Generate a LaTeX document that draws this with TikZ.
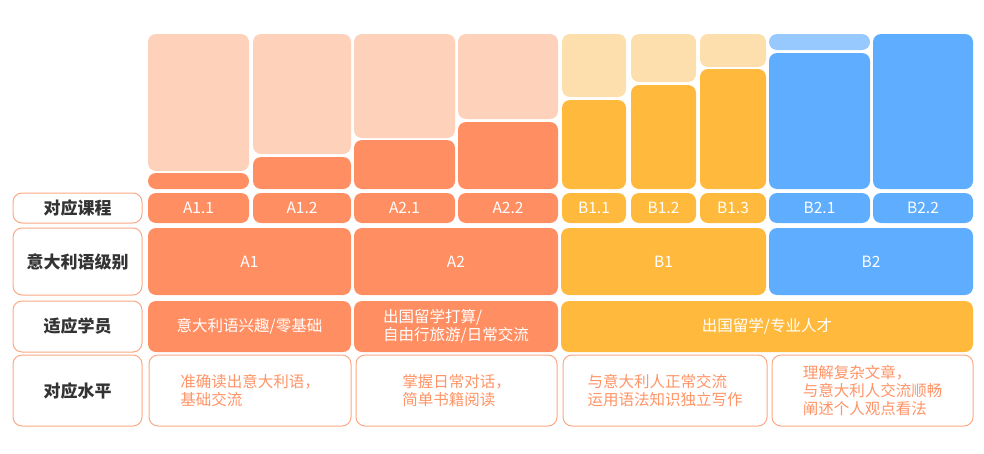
\documentclass[tikz,border=0pt]{standalone}
\usepackage{fontspec}
\setmainfont{Noto Sans CJK SC}
\usetikzlibrary{fit}
\definecolor{orgD}{HTML}{FF8F63}
\definecolor{orgL}{HTML}{FDD1BA}
\definecolor{yelD}{HTML}{FFBA3E}
\definecolor{yelL}{HTML}{FDDFAD}
\definecolor{bluD}{HTML}{5FADFE}
\definecolor{bluL}{HTML}{97C8FE}
\definecolor{edgeO}{HTML}{FBA985}
\definecolor{txtO}{HTML}{FF9466}
\definecolor{txtD}{HTML}{333333}
\tikzset{
  bx/.style={rectangle, rounded corners=8pt, inner sep=0pt, draw=none},
  bar/.style={bx, fill=#1},
  cellw/.style={bx, fill=#1, text=white, font=\fontsize{15.5}{18}\selectfont},
  lab/.style={bx, rounded corners=9pt, draw=edgeO, line width=1pt, fill=white, text=txtD, font=\fontsize{17}{20}\selectfont\bfseries},
  lvl/.style={bx, rounded corners=9pt, draw=edgeO, line width=1pt, fill=white, text=txtO, align=left, font=\fontsize{15.5}{18}\selectfont}
}
\begin{document}
\begin{tikzpicture}[x=1pt,y=-1pt]
\useasboundingbox (0,0) rectangle (984,453);
% top bars
\node[bar=orgL, fit={(148,34) (249,171)}] (a11l) {};
\node[bar=orgD, fit={(148,173) (249,189)}] (a11d) {};
\node[bar=orgL, fit={(253,34) (351,154)}] (a12l) {};
\node[bar=orgD, fit={(253,157) (351,189)}] (a12d) {};
\node[bar=orgL, fit={(354,34) (455,138)}] (a21l) {};
\node[bar=orgD, fit={(354,140) (455,189)}] (a21d) {};
\node[bar=orgL, fit={(458,34) (558,119)}] (a22l) {};
\node[bar=orgD, fit={(458,122) (558,189)}] (a22d) {};
\node[bar=yelL, fit={(562,34) (626,97)}] (b11l) {};
\node[bar=yelD, fit={(562,100) (626,189)}] (b11d) {};
\node[bar=yelL, fit={(631,34) (696,82)}] (b12l) {};
\node[bar=yelD, fit={(631,85) (696,189)}] (b12d) {};
\node[bar=yelL, fit={(700,34) (766,67)}] (b13l) {};
\node[bar=yelD, fit={(700,69) (766,189)}] (b13d) {};
\node[bar=bluL, fit={(769,34) (870,50)}] (b21l) {};
\node[bar=bluD, fit={(769,53) (870,189)}] (b21d) {};
\node[bar=bluD, fit={(873,34) (973,189)}] (b22d) {};
% row 1
\node[lab, fit={(13,193) (142,223)}] (lab1) {};
\node at (lab1.center) [text=txtD, font=\fontsize{17}{20}\selectfont\bfseries] (lab1t) {对应课程};
\node[cellw=orgD, fit={(148,193) (249,223)}] (c11) {};
\node at (c11.center) [text=white, font=\fontsize{15.5}{18}\selectfont] (c11t) {A1.1};
\node[cellw=orgD, fit={(253,193) (351,223)}] (c12) {};
\node at (c12.center) [text=white, font=\fontsize{15.5}{18}\selectfont] (c12t) {A1.2};
\node[cellw=orgD, fit={(354,193) (455,223)}] (c21) {};
\node at (c21.center) [text=white, font=\fontsize{15.5}{18}\selectfont] (c21t) {A2.1};
\node[cellw=orgD, fit={(458,193) (558,223)}] (c22) {};
\node at (c22.center) [text=white, font=\fontsize{15.5}{18}\selectfont] (c22t) {A2.2};
\node[cellw=yelD, fit={(562,193) (626,223)}] (d11) {};
\node at (d11.center) [text=white, font=\fontsize{15.5}{18}\selectfont] (d11t) {B1.1};
\node[cellw=yelD, fit={(631,193) (696,223)}] (d12) {};
\node at (d12.center) [text=white, font=\fontsize{15.5}{18}\selectfont] (d12t) {B1.2};
\node[cellw=yelD, fit={(700,193) (766,223)}] (d13) {};
\node at (d13.center) [text=white, font=\fontsize{15.5}{18}\selectfont] (d13t) {B1.3};
\node[cellw=bluD, fit={(769,193) (870,223)}] (d21) {};
\node at (d21.center) [text=white, font=\fontsize{15.5}{18}\selectfont] (d21t) {B2.1};
\node[cellw=bluD, fit={(873,193) (973,223)}] (d22) {};
\node at (d22.center) [text=white, font=\fontsize{15.5}{18}\selectfont] (d22t) {B2.2};
% row 2
\node[lab, fit={(13,228) (142,295)}] (lab2) {};
\node at (lab2.center) [text=txtD, font=\fontsize{17}{20}\selectfont\bfseries] (lab2t) {意大利语级别};
\node[cellw=orgD, fit={(148,228) (351,295)}] (lA1) {};
\node at (lA1.center) [text=white, font=\fontsize{15.5}{18}\selectfont] (lA1t) {A1};
\node[cellw=orgD, fit={(354,228) (558,295)}] (lA2) {};
\node at (lA2.center) [text=white, font=\fontsize{15.5}{18}\selectfont] (lA2t) {A2};
\node[cellw=yelD, fit={(561,228) (766,295)}] (lB1) {};
\node at (lB1.center) [text=white, font=\fontsize{15.5}{18}\selectfont] (lB1t) {B1};
\node[cellw=bluD, fit={(769,228) (973,295)}] (lB2) {};
\node at (lB2.center) [text=white, font=\fontsize{15.5}{18}\selectfont] (lB2t) {B2};
% row 3
\node[lab, fit={(13,301) (142,352)}] (lab3) {};
\node at (lab3.center) [text=txtD, font=\fontsize{17}{20}\selectfont\bfseries] (lab3t) {适应学员};
\node[cellw=orgD, fit={(148,301) (351,352)}] (sA1) {};
\node at (sA1.center) [text=white, font=\fontsize{15.5}{18}\selectfont] (sA1t) {意大利语兴趣/零基础};
\node[cellw=orgD, fit={(354,301) (558,352)}] (sA2) {};
\node at (sA2.center) [text=white, align=left, font=\fontsize{15.5}{18.5}\selectfont] (sA2t) {出国留学打算/\\自由行旅游/日常交流};
\node[cellw=yelD, fit={(561,301) (973,352)}] (sB) {};
\node at (sB.center) [text=white, font=\fontsize{15.5}{18}\selectfont] (sBt) {出国留学/专业人才};
% row 4
\node[lab, fit={(13,355) (142,426)}] (lab4) {};
\node at (lab4.center) [text=txtD, font=\fontsize{17}{20}\selectfont\bfseries] (lab4t) {对应水平};
\node[lvl, fit={(149,355) (351,426)}] (vA1) {};
\node at (vA1.center) [text=txtO, align=left, font=\fontsize{15.5}{18}\selectfont] (vA1t) {准确读出意大利语，\\基础交流};
\node[lvl, fit={(356,355) (557,426)}] (vA2) {};
\node at (vA2.center) [text=txtO, align=left, font=\fontsize{15.5}{18}\selectfont] (vA2t) {掌握日常对话，\\简单书籍阅读};
\node[lvl, fit={(563,355) (767,426)}] (vB1) {};
\node at (vB1.center) [text=txtO, align=left, font=\fontsize{15.5}{18}\selectfont] (vB1t) {与意大利人正常交流\\运用语法知识独立写作};
\node[lvl, fit={(772,355) (973,426)}] (vB2) {};
\node at (vB2.center) [text=txtO, align=left, font=\fontsize{15.5}{18}\selectfont] (vB2t) {理解复杂文章，\\与意大利人交流顺畅\\阐述个人观点看法};
\end{tikzpicture}
\end{document}
